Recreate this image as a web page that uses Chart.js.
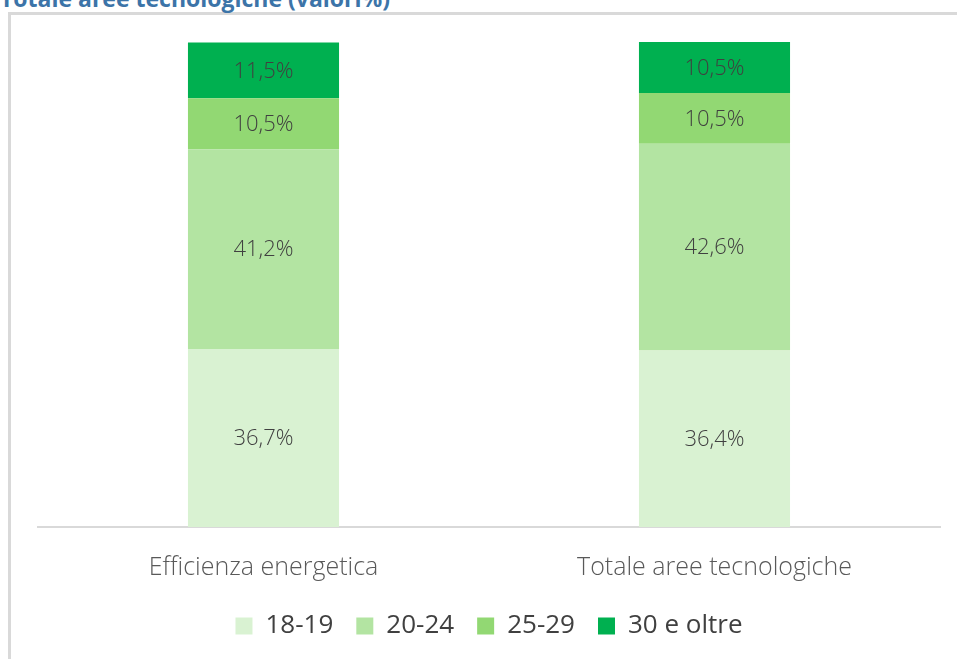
<!DOCTYPE html>
<html>
<head>
<meta charset="utf-8">
<script src="https://cdn.jsdelivr.net/npm/chart.js@4.4.0/dist/chart.umd.min.js"></script>
<style>
  body { margin: 0; background: #fff; }
  #wrap { position: relative; width: 957px; height: 659px; overflow: hidden; }
  #frame { position: absolute; left: 8px; top: 12px; width: 1000px; height: 1000px;
           border-top: 3px solid #d9d9d9; border-left: 3px solid #d9d9d9; }
  #title { position: absolute; left: 0; top: -18px; font: bold 23px "Open Sans", sans-serif;
           color: #3c74a8; white-space: nowrap; }
  #c { position: absolute; left: 0; top: 0; }
</style>
</head>
<body>
<div id="wrap">
  <div id="frame"></div>
  <div id="title">Totale aree tecnologiche (valori%)</div>
  <canvas id="c" width="957" height="659"></canvas>
</div>
<script>
const categories = ["Efficienza energetica", "Totale aree tecnologiche"];
const seriesNames = ["18-19", "20-24", "25-29", "30 e oltre"];
const age1819 = [36.7, 36.4];
const age2024 = [41.2, 42.6];
const age2529 = [10.5, 10.5];
const age30plus = [11.5, 10.5];
const colors = ["#d9f2d2", "#b3e4a2", "#92d873", "#00b050"];

const valueLabels = {
  id: 'valueLabels',
  afterDatasetsDraw(chart) {
    const ctx = chart.ctx;
    ctx.save();
    ctx.font = '300 22px "Open Sans", sans-serif';
    ctx.fillStyle = '#404040';
    ctx.textAlign = 'center';
    ctx.textBaseline = 'middle';
    chart.data.datasets.forEach((ds, i) => {
      chart.getDatasetMeta(i).data.forEach((bar, j) => {
        const p = bar.getProps(['x', 'y', 'base'], true);
        const txt = ds.data[j].toFixed(1).replace('.', ',') + '%';
        ctx.fillText(txt, p.x, (p.y + p.base) / 2 + 1);
      });
    });
    ctx.restore();
  }
};

new Chart(document.getElementById("c"), {
  type: 'bar',
  data: {
    labels: categories,
    datasets: [
      { label: seriesNames[0], data: age1819, backgroundColor: colors[0] },
      { label: seriesNames[1], data: age2024, backgroundColor: colors[1] },
      { label: seriesNames[2], data: age2529, backgroundColor: colors[2] },
      { label: seriesNames[3], data: age30plus, backgroundColor: colors[3] }
    ]
  },
  options: {
    responsive: false,
    animation: false,
    layout: { padding: { left: 38, right: 17, top: 42, bottom: 10 } },
    datasets: { bar: { categoryPercentage: 1, barPercentage: 0.335 } },
    scales: {
      x: {
        stacked: true,
        grid: { display: false },
        border: { display: true, color: '#d9d9d9', width: 2 },
        ticks: { color: '#595959', font: { family: 'Open Sans', size: 25, weight: '300' }, padding: 18 },
        afterFit(scale) { scale.height -= 11; }
      },
      y: { stacked: true, display: false, min: 0, max: 100 }
    },
    plugins: {
      legend: {
        position: 'bottom',
        labels: {
          color: '#404040',
          font: { family: 'Open Sans', size: 26 },
          boxWidth: 17, boxHeight: 17, padding: 23
        }
      },
      tooltip: { enabled: false }
    }
  },
  plugins: [valueLabels]
});
</script>
</body>
</html>
